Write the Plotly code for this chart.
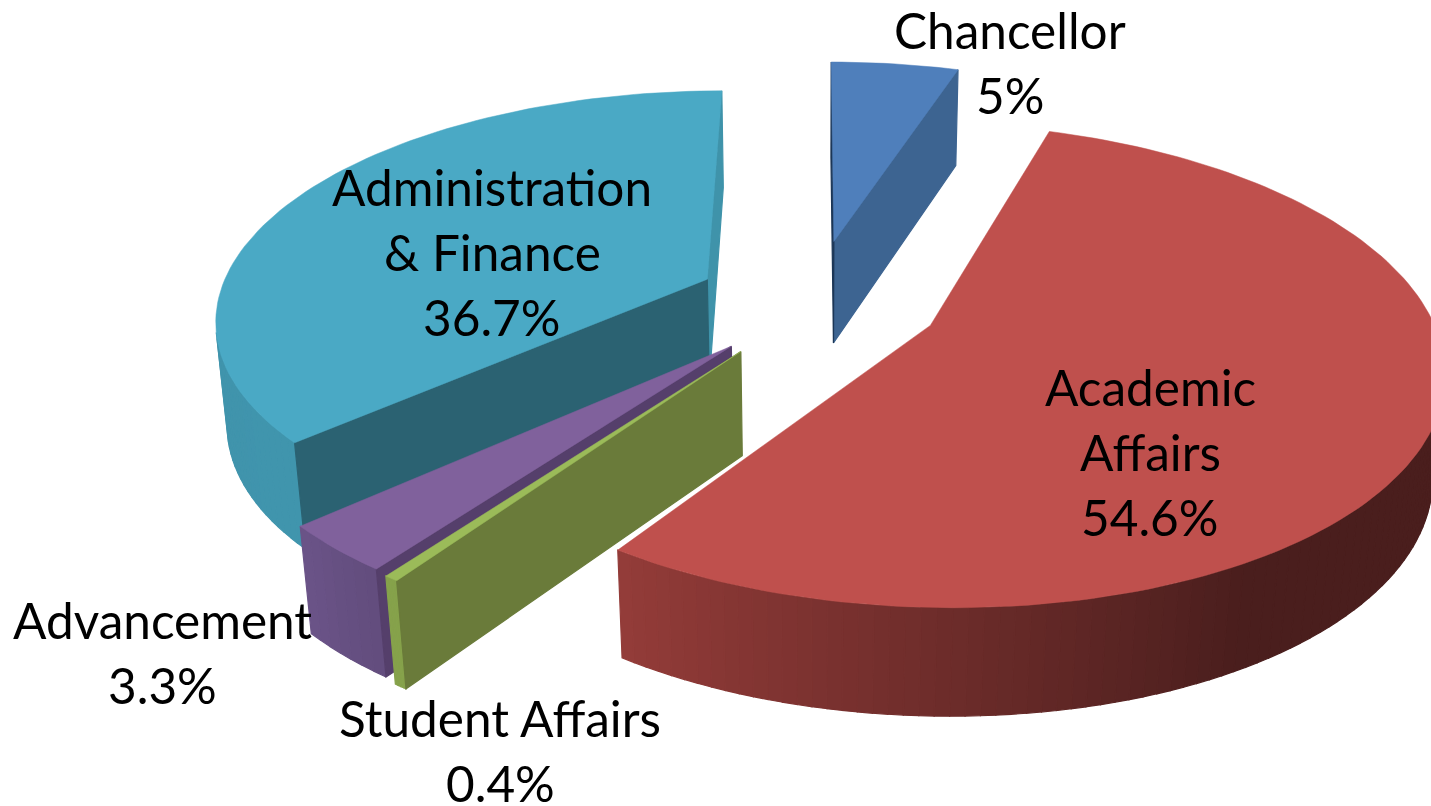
"""3D exploded pie of spending by division."""

import math

import plotly.graph_objects as go

CATEGORIES = ["Chancellor", "Academic Affairs", "Student Affairs", "Advancement", "Administration & Finance"]
VALUES = [5, 54.6, 0.4, 3.3, 36.7]
LABEL_LINES = [["Chancellor"], ["Academic", "Affairs"], ["Student Affairs"], ["Advancement"], ["Administration", "& Finance"]]

EXPLODE = [0.27, 0.26, 0.25, 0.245, 0.242]
RADIUS = [1.0, 1.01, 1.0, 1.0, 1.0]
Y_NUDGE = [0, 0, 5, 5, 2]
TOP_COLORS = ["#4f7fbb", "#bf504d", "#9bbb59", "#80619c", "#4aa9c5"]
CUT_COLORS = ["#1c3656", "#943c39", "#6a7b3a", "#553f6b", "#2b6272"]
END_CUT_COLORS = ["#3d6491", "#943c39", "#6a7b3a", "#553f6b", "#3f93aa"]
RIM_START = ["#3d6491", "#4a1e1d", "#86a24b", "#624c7d", "#4095ad"]
RIM_END = ["#3d6491", "#943c39", "#86a24b", "#6b5488", "#3f8fa8"]
RIM_DARK_UNTIL = [0, 150, 0, 0, 0]
LABEL_XY = [(1010, 30), (1150, 387), (500, 718), (162, 620), (492, 187)]
DRAW_ORDER = [0, 4, 3, 2, 1]

LINE_STEP = 65
FONT = "Lato"
FONT_SIZE = 49.5

# perspective camera, fitted by eye
X0, Y1 = 814, 299
KX, KY = 490, 225
PERSP = 0.16
DEPTH = 103
DEPTH_PERSP = 0.6
Z_PERSP = 1 / 5400


def project(u, v, z=0.0, nudge=0):
    w = 1 + PERSP * v + Z_PERSP * z
    wz = 1 + PERSP * DEPTH_PERSP * v
    return X0 + KX * u / w, Y1 + nudge - KY * v / w + z / wz


def hex_mix(a, b, t):
    ca = [int(a[i:i + 2], 16) for i in (1, 3, 5)]
    cb = [int(b[i:i + 2], 16) for i in (1, 3, 5)]
    return "#" + "".join(f"{round(x + (y - x) * t):02x}" for x, y in zip(ca, cb))


def add_poly(fig, points, color, width=1.2):
    xs = [p[0] for p in points] + [points[0][0]]
    ys = [p[1] for p in points] + [points[0][1]]
    fig.add_trace(
        go.Scatter(
            x=xs,
            y=ys,
            mode="lines",
            fill="toself",
            fillcolor=color,
            line=dict(color=color, width=width),
            hoverinfo="skip",
            showlegend=False,
        )
    )


def signed_area(points):
    total = 0.0
    for (x1, y1), (x2, y2) in zip(points, points[1:] + points[:1]):
        total += x1 * y2 - x2 * y1
    return total / 2


def add_slice(fig, i, start, end):
    mid = math.radians((start + end) / 2)
    ou, ov = EXPLODE[i] * math.sin(mid), EXPLODE[i] * math.cos(mid)

    def rim(deg, z=0.0):
        t = math.radians(deg)
        return project(ou + RADIUS[i] * math.sin(t), ov + RADIUS[i] * math.cos(t), z, Y_NUDGE[i])

    apex_top, apex_bot = project(ou, ov, 0.0, Y_NUDGE[i]), project(ou, ov, DEPTH, Y_NUDGE[i])
    n = max(4, int((end - start) / 1.5))
    degs = [start + (end - start) * k / n for k in range(n + 1)]

    # outer wall, split up so the shading can run along it
    shade_from = max(start, RIM_DARK_UNTIL[i])
    for k in range(n):
        a, b = degs[k], degs[k + 1]
        quad = [rim(a), rim(b), rim(b, DEPTH), rim(a, DEPTH)]
        if signed_area(quad) >= 0:
            continue
        span = ((a + b) / 2 - shade_from) / (end - shade_from)
        add_poly(fig, quad, hex_mix(RIM_START[i], RIM_END[i], max(0.0, min(1.0, span))))

    # the two cut faces, only where they turn towards the camera
    end_cut = [apex_top, rim(end), rim(end, DEPTH), apex_bot]
    start_cut = [apex_top, apex_bot, rim(start, DEPTH), rim(start)]
    if signed_area(end_cut) > 0:
        add_poly(fig, end_cut, END_CUT_COLORS[i])
    if signed_area(start_cut) > 0:
        add_poly(fig, start_cut, CUT_COLORS[i])

    add_poly(fig, [apex_top] + [rim(d) for d in degs], TOP_COLORS[i], width=0.5)


fig = go.Figure()

total = sum(VALUES)
starts = []
angle = 0.0
for v in VALUES:
    starts.append(angle)
    angle += v / total * 360

for i in DRAW_ORDER:
    add_slice(fig, i, starts[i], starts[i] + VALUES[i] / total * 360)

for lines, value, (x, y) in zip(LABEL_LINES, VALUES, LABEL_XY):
    for k, text in enumerate(lines + [f"{value}%"]):
        fig.add_annotation(
            x=x,
            y=y + k * LINE_STEP,
            text=text,
            showarrow=False,
            font=dict(family=FONT, size=FONT_SIZE, color="#000000"),
            xanchor="center",
            yanchor="middle",
        )

fig.update_layout(
    width=1431,
    height=806,
    paper_bgcolor="#ffffff",
    plot_bgcolor="#ffffff",
    margin=dict(l=0, r=0, t=0, b=0),
    showlegend=False,
)
fig.update_xaxes(range=[0, 1431], visible=False, fixedrange=True)
fig.update_yaxes(range=[806, 0], visible=False, fixedrange=True)

# drop the page's default margin so the plot fills the window exactly
fig.write_html(
    "out.html",
    config={"displayModeBar": False},
    post_script="document.body.style.margin='0';document.documentElement.style.overflow='hidden';",
)
